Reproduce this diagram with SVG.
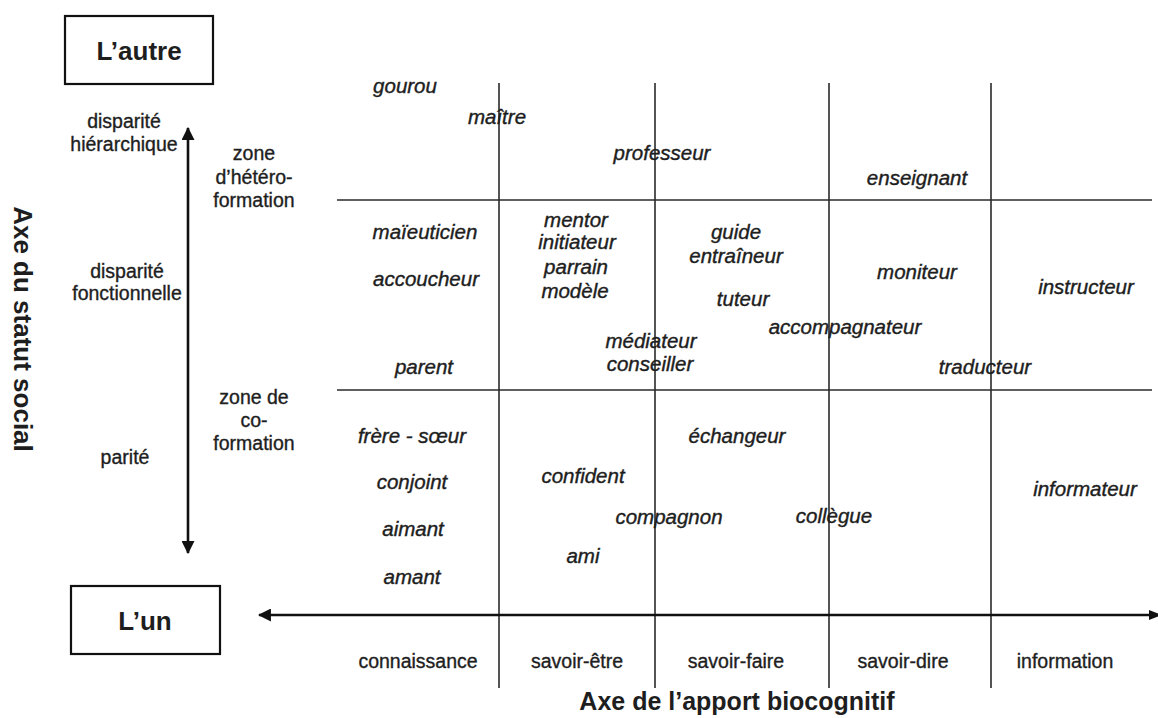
<svg xmlns="http://www.w3.org/2000/svg" width="1158" height="718" viewBox="0 0 1158 718">
<style>
text{font-family:"Liberation Sans",Arial,sans-serif;fill:#1e1e1e;text-anchor:middle}
.r{font-size:19.5px;stroke:#1e1e1e;stroke-width:0.35}
.i{font-size:20.5px;font-style:italic;stroke:#1e1e1e;stroke-width:0.4}
.b{font-size:26px;font-weight:bold}
.grid{stroke:#2a2a2a;stroke-width:1.6;fill:none}
.axis{stroke:#111;stroke-width:2.6;fill:none}
.box{stroke:#111;stroke-width:2.2;fill:#fff}
</style>
<defs>
<marker id="ah" viewBox="0 0 12 12" refX="11" refY="6" markerWidth="5" markerHeight="5" markerUnits="strokeWidth" orient="auto-start-reverse">
<path d="M0,0 L12,6 L0,12 Z" fill="#111"/>
</marker>
</defs>
<rect width="1158" height="718" fill="#fff"/>

<g id="connectors">
<line class="grid" x1="337" y1="200" x2="1152" y2="200"/>
<line class="grid" x1="337" y1="390" x2="1152" y2="390"/>
<line class="grid" x1="499" y1="83" x2="499" y2="688"/>
<line class="grid" x1="655" y1="83" x2="655" y2="688"/>
<line class="grid" x1="829" y1="83" x2="829" y2="688"/>
<line class="grid" x1="991" y1="83" x2="991" y2="688"/>
<line class="axis" x1="188" y1="128" x2="188" y2="553" marker-start="url(#ah)" marker-end="url(#ah)"/>
<line class="axis" x1="1150" y1="615" x2="259" y2="615" marker-end="url(#ah)"/>
<path d="M1149,610 L1162,615 L1149,620 Z" fill="#111"/>
</g>

<g id="node-autre">
<rect class="box" x="65" y="16" width="148" height="68"/>
<text class="b" x="139" y="60">L’autre</text>
</g>
<g id="node-un">
<rect class="box" x="71" y="586" width="149" height="68"/>
<text class="b" x="145" y="630">L’un</text>
</g>

<g id="axis-labels">
<text class="b" transform="translate(14,329) rotate(90)">Axe du statut social</text>
<text class="b" x="737" y="710" style="font-size:25px">Axe de l’apport biocognitif</text>
</g>

<g id="status-labels">
<text class="r" x="124" y="128">disparité</text>
<text class="r" x="124" y="151">hiérarchique</text>
<text class="r" x="127" y="278">disparité</text>
<text class="r" x="127" y="300">fonctionnelle</text>
<text class="r" x="125" y="464">parité</text>
<text class="r" x="254" y="160">zone</text>
<text class="r" x="254" y="184">d’hétéro-</text>
<text class="r" x="254" y="207">formation</text>
<text class="r" x="254" y="404">zone de</text>
<text class="r" x="254" y="427">co-</text>
<text class="r" x="254" y="450">formation</text>
</g>

<g id="knowledge-labels">
<text class="r" x="418" y="668">connaissance</text>
<text class="r" x="577" y="668">savoir-être</text>
<text class="r" x="736" y="668">savoir-faire</text>
<text class="r" x="903" y="668">savoir-dire</text>
<text class="r" x="1065" y="668">information</text>
</g>

<g id="roles">
<text class="i" x="405" y="93">gourou</text>
<text class="i" x="497" y="124">maître</text>
<text class="i" x="662" y="160">professeur</text>
<text class="i" x="917" y="185">enseignant</text>
<text class="i" x="425" y="239">maïeuticien</text>
<text class="i" x="426" y="286">accoucheur</text>
<text class="i" x="576" y="227">mentor</text>
<text class="i" x="577" y="249">initiateur</text>
<text class="i" x="576" y="274">parrain</text>
<text class="i" x="575" y="298">modèle</text>
<text class="i" x="736" y="239">guide</text>
<text class="i" x="736" y="263">entraîneur</text>
<text class="i" x="743" y="306">tuteur</text>
<text class="i" x="917" y="279">moniteur</text>
<text class="i" x="1086" y="294">instructeur</text>
<text class="i" x="845" y="334">accompagnateur</text>
<text class="i" x="651" y="348">médiateur</text>
<text class="i" x="650" y="371">conseiller</text>
<text class="i" x="424" y="374">parent</text>
<text class="i" x="985" y="374">traducteur</text>
<text class="i" x="412" y="443">frère - sœur</text>
<text class="i" x="737" y="443">échangeur</text>
<text class="i" x="412" y="489">conjoint</text>
<text class="i" x="583" y="483">confident</text>
<text class="i" x="1085" y="496">informateur</text>
<text class="i" x="669" y="524">compagnon</text>
<text class="i" x="834" y="523">collègue</text>
<text class="i" x="413" y="536">aimant</text>
<text class="i" x="583" y="563">ami</text>
<text class="i" x="412" y="584">amant</text>
</g>
</svg>
